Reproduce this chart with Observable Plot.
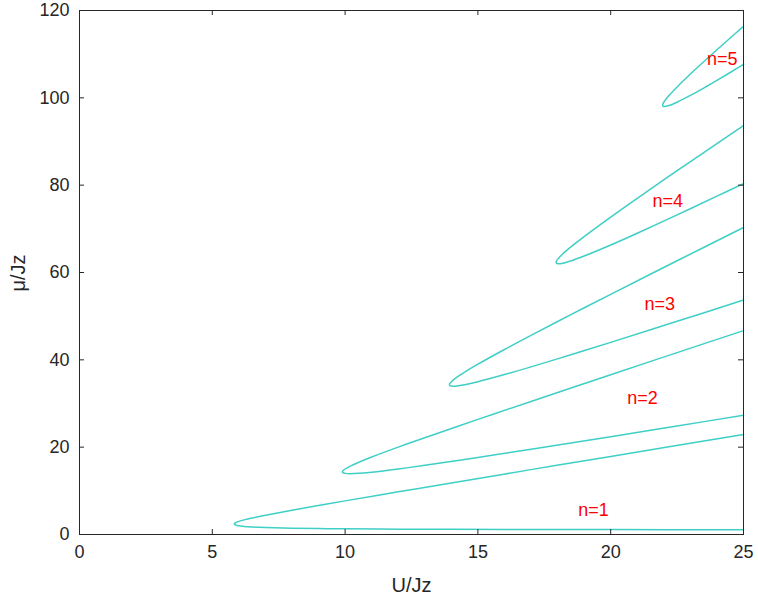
<!DOCTYPE html>
<html><head><meta charset="utf-8">
<script src="https://cdn.jsdelivr.net/npm/d3@7"></script>
<script src="https://cdn.jsdelivr.net/npm/@observablehq/plot@0.6"></script>
<style>body{margin:0;background:#fff}</style>
</head><body><div id="chart"></div>
<script>
const xTicks = [0, 5, 10, 15, 20, 25];
const yTicks = [0, 20, 40, 60, 80, 100, 120];

// Lobe n=1
const lobe1U     = [5.828, 5.85, 5.9, 6.0, 6.2, 6.5, 7, 8, 9, 10, 12, 14, 17, 20, 25];
const lobe1Upper = [2.414, 2.600, 2.770, 3.000, 3.348, 3.781, 4.414, 5.562, 6.646, 7.702, 9.772, 11.815, 14.856, 17.882, 22.909];
const lobe1Lower = [2.414, 2.250, 2.130, 2.000, 1.852, 1.719, 1.586, 1.438, 1.354, 1.298, 1.228, 1.185, 1.144, 1.118, 1.091];
// Lobe n=2
const lobe2U     = [9.899, 9.92, 10.0, 10.2, 10.5, 11, 12, 13, 15, 17, 20, 22.5, 25];
const lobe2Upper = [14.349, 14.607, 15.0, 15.672, 16.5, 17.732, 20.0, 22.162, 26.359, 30.477, 36.589, 41.65, 46.695];
const lobe2Lower = [14.349, 14.153, 14.0, 13.928, 14.0, 14.268, 15.0, 15.838, 17.641, 19.523, 22.411, 24.85, 27.305];
// Lobe n=3
const lobe3U     = [13.928, 13.95, 14.0, 14.2, 14.5, 15, 16, 17, 18.5, 20, 22.5, 25];
const lobe3Upper = [34.32, 34.65, 35.0, 35.98, 37.186, 39.0, 42.372, 45.606, 50.339, 55.0, 62.683, 70.307];
const lobe3Lower = [34.32, 34.10, 34.0, 34.02, 34.314, 35.0, 36.628, 38.394, 41.161, 44.0, 48.817, 53.693];
// Lobe n=4
const lobe4U     = [17.944, 17.97, 18.0, 18.2, 18.5, 19, 20, 21, 22.5, 24, 25];
const lobe4Upper = [62.305, 62.734, 63.0, 64.277, 65.851, 68.236, 72.702, 77.0, 83.306, 89.521, 93.633];
const lobe4Lower = [62.305, 62.056, 62.0, 62.123, 62.649, 63.764, 66.298, 69.0, 73.194, 77.479, 80.367];
// Lobe n=5
const lobe5U     = [21.954, 21.98, 22.0, 22.2, 22.5, 23, 23.5, 24, 24.5, 25];
const lobe5Upper = [98.293, 98.784, 99.0, 100.566, 102.5, 105.449, 108.26, 111.0, 113.695, 116.359];
const lobe5Lower = [98.293, 98.036, 98.0, 98.234, 99.0, 100.551, 102.24, 104.0, 105.805, 107.641];

const labelText = ["n=1", "n=2", "n=3", "n=4", "n=5"];
const labelX    = [19.35, 21.2, 21.85, 22.15, 24.2];
const labelY    = [5.5, 31.1, 52.7, 76.3, 108.8];

function lobePoints(n, U, up, lo) {
  const pts = [];
  for (let i = U.length - 1; i >= 0; i--) pts.push({n, U: U[i], mu: lo[i]});
  for (let i = 1; i < U.length; i++) pts.push({n, U: U[i], mu: up[i]});
  return pts;
}
const lobeData = [
  ...lobePoints(1, lobe1U, lobe1Upper, lobe1Lower),
  ...lobePoints(2, lobe2U, lobe2Upper, lobe2Lower),
  ...lobePoints(3, lobe3U, lobe3Upper, lobe3Lower),
  ...lobePoints(4, lobe4U, lobe4Upper, lobe4Lower),
  ...lobePoints(5, lobe5U, lobe5Upper, lobe5Lower)
];
const labels = labelText.map((t, i) => ({t, x: labelX[i], y: labelY[i]}));

const W = 758, H = 606, mL = 79, mR = 15, mT = 10, mB = 72;
const pw = W - mL - mR, ph = H - mT - mB;
const axisColor = "#262626";
const font = "'Liberation Sans', Arial, Helvetica, sans-serif";

const chart = Plot.plot({
  width: W, height: H,
  marginLeft: mL, marginRight: mR, marginTop: mT, marginBottom: mB,
  style: {fontFamily: font, fontSize: "18px", color: axisColor, background: "#fff"},
  x: {domain: [0, 25], ticks: xTicks, tickSize: 0, tickPadding: 11, label: null},
  y: {domain: [0, 120], ticks: yTicks, tickSize: 0, tickPadding: 10, label: null},
  marks: [
    Plot.line(lobeData, {x: "U", y: "mu", z: "n", stroke: "#3fcfc6", strokeWidth: 1.5, curve: "catmull-rom"}),
    Plot.text(labels, {x: "x", y: "y", text: "t", fill: "#ff0000", fontSize: 18}),
    Plot.frame({stroke: axisColor, strokeWidth: 1}),
    Plot.tickX(xTicks, {x: d => d, insetTop: ph - 5, stroke: axisColor}),
    Plot.tickX(xTicks, {x: d => d, insetBottom: ph - 5, stroke: axisColor}),
    Plot.tickY(yTicks, {y: d => d, insetRight: pw - 5, stroke: axisColor}),
    Plot.tickY(yTicks, {y: d => d, insetLeft: pw - 5, stroke: axisColor}),
    Plot.text(["U/Jz"], {frameAnchor: "bottom", dy: 57, text: d => d, fontSize: 20, fill: axisColor}),
    Plot.text(["μ/Jz"], {frameAnchor: "left", dx: -61, dy: 19, rotate: -90, text: d => d, fontSize: 20, fill: axisColor})
  ]
});
document.getElementById("chart").appendChild(chart);
</script>
</body></html>
